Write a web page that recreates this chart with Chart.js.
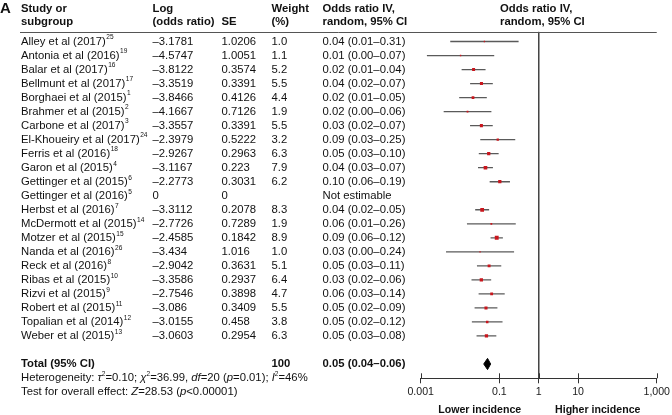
<!DOCTYPE html>
<html>
<head>
<meta charset="utf-8">
<script src="https://cdn.jsdelivr.net/npm/chart.js@4.4.1/dist/chart.umd.min.js"></script>
<style>
    html, body { margin: 0; padding: 0; background: #fff; }
    #forest { display: block; }
</style>
</head>
<body>
<canvas id="forest" width="672" height="415"></canvas>
<script>
// 연구별 데이터
const studies = [
    'Alley et al (2017)', 'Antonia et al (2016)', 'Balar et al (2017)', 'Bellmunt et al (2017)',
    'Borghaei et al (2015)', 'Brahmer et al (2015)', 'Carbone et al (2017)', 'El-Khoueiry et al (2017)',
    'Ferris et al (2016)', 'Garon et al (2015)', 'Gettinger et al (2015)', 'Gettinger et al (2016)',
    'Herbst et al (2016)', 'McDermott et al (2015)', 'Motzer et al (2015)', 'Nanda et al (2016)',
    'Reck et al (2016)', 'Ribas et al (2015)', 'Rizvi et al (2015)', 'Robert et al (2015)',
    'Topalian et al (2014)', 'Weber et al (2015)'
];
const refs = ['25', '19', '16', '17', '1', '2', '3', '24', '18', '4', '6', '5', '7', '14', '15', '26', '8', '10', '9', '11', '12', '13'];
const logOR = [-3.1781, -4.5747, -3.8122, -3.3519, -3.8466, -4.1667, -3.3557, -2.3979, -2.9267, -3.1167, -2.2773, 0,
    -3.3112, -2.7726, -2.4585, -3.434, -2.9042, -3.3586, -2.7546, -3.086, -3.0155, -3.0603];
const se = [1.0206, 1.0051, 0.3574, 0.3391, 0.4126, 0.7126, 0.3391, 0.5222, 0.2963, 0.223, 0.3031, 0,
    0.2078, 0.7289, 0.1842, 1.016, 0.3631, 0.2937, 0.3898, 0.3409, 0.458, 0.2954];
const weights = [1.0, 1.1, 5.2, 5.5, 4.4, 1.9, 5.5, 3.2, 6.3, 7.9, 6.2, null, 8.3, 1.9, 8.9, 1.0, 5.1, 6.4, 4.7, 5.5, 3.8, 6.3];
const orText = [
    '0.04 (0.01–0.31)', '0.01 (0.00–0.07)', '0.02 (0.01–0.04)', '0.04 (0.02–0.07)', '0.02 (0.01–0.05)',
    '0.02 (0.00–0.06)', '0.03 (0.02–0.07)', '0.09 (0.03–0.25)', '0.05 (0.03–0.10)', '0.04 (0.03–0.07)',
    '0.10 (0.06–0.19)', 'Not estimable', '0.04 (0.02–0.05)', '0.06 (0.01–0.26)', '0.09 (0.06–0.12)',
    '0.03 (0.00–0.24)', '0.05 (0.03–0.11)', '0.03 (0.02–0.06)', '0.06 (0.03–0.14)', '0.05 (0.02–0.09)',
    '0.05 (0.02–0.12)', '0.05 (0.03–0.08)'
];

// 합계 (low, point, high)
const totalOR = [0.04, 0.05, 0.06];
const totalLabels = ['Total (95% CI)', '100', '0.05 (0.04–0.06)'];

// x축 눈금
const tickValues = [0.001, 0.1, 1, 10, 1000];
const tickLabels = ['0.001', '0.1', '1', '10', '1,000'];

const FONT = '"Liberation Sans", Arial, sans-serif';
const TXT = 11.3;
const COL = { study: 21, log: 152.5, se: 221.5, weight: 271.5, or: 322.5, plot: 500 };
const totalRow = studies.length + 1;

function fmtNum(v) {
    return v < 0 ? '–' + Math.abs(v) : String(v);
}

// CI 선 데이터셋 (연구별)
const ciSets = [];
studies.forEach((s, i) => {
    if (!se[i]) return;
    ciSets.push({
        type: 'line',
        data: [
            { x: Math.exp(logOR[i] - 1.96 * se[i]), y: i },
            { x: Math.exp(logOR[i] + 1.96 * se[i]), y: i }
        ],
        borderColor: '#5a5a5a',
        borderWidth: 1.3,
        pointRadius: 0,
        order: 3
    });
});

const markerData = [];
const markerSize = [];
studies.forEach((s, i) => {
    if (!se[i]) return;
    markerData.push({ x: Math.exp(logOR[i]), y: i });
    markerSize.push(1.3 * Math.sqrt(weights[i]));
});

function drawRuns(ctx, runs, x, y, size) {
    runs.forEach(([t, st]) => {
        if (st === 's') {
            ctx.font = `${size * 0.58}px ${FONT}`;
            ctx.fillText(t, x, y - 4);
        } else {
            ctx.font = `${st === 'i' ? 'italic ' : ''}${size}px ${FONT}`;
            ctx.fillText(t, x, y);
        }
        x += ctx.measureText(t).width;
    });
}

const tablePlugin = {
    id: 'forestTable',
    afterDraw(chart) {
        const ctx = chart.ctx;
        const xs = chart.scales.x;
        const ys = chart.scales.y;
        const area = chart.chartArea;
        ctx.save();

        // 헤더 구분선
        ctx.strokeStyle = '#555';
        ctx.lineWidth = 1;
        ctx.beginPath();
        ctx.moveTo(20, Math.round(area.top) + 0.5);
        ctx.lineTo(area.right, Math.round(area.top) + 0.5);
        ctx.stroke();

        // 위쪽 눈금
        ctx.strokeStyle = '#333';
        ctx.beginPath();
        xs.ticks.forEach(t => {
            const px = Math.round(xs.getPixelForValue(t.value)) + 0.5;
            ctx.moveTo(px, area.bottom - 5);
            ctx.lineTo(px, area.bottom);
        });
        ctx.stroke();

        ctx.fillStyle = '#111';
        ctx.textBaseline = 'middle';
        ctx.textAlign = 'left';

        ctx.font = `bold 15px ${FONT}`;
        ctx.fillText('A', 0, 9);

        ctx.font = `bold ${TXT}px ${FONT}`;
        const h1 = 8.5, h2 = 22.3;
        ctx.fillText('Study or', COL.study, h1);
        ctx.fillText('subgroup', COL.study, h2);
        ctx.fillText('Log', COL.log, h1);
        ctx.fillText('(odds ratio)', COL.log, h2);
        ctx.fillText('SE', COL.se, h2);
        ctx.fillText('Weight', COL.weight, h1);
        ctx.fillText('(%)', COL.weight, h2);
        ctx.fillText('Odds ratio IV,', COL.or, h1);
        ctx.fillText('random, 95% CI', COL.or, h2);
        ctx.fillText('Odds ratio IV,', COL.plot, h1);
        ctx.fillText('random, 95% CI', COL.plot, h2);

        studies.forEach((s, i) => {
            const py = ys.getPixelForValue(i);
            ctx.font = `${TXT}px ${FONT}`;
            ctx.fillText(s, COL.study, py);
            const w = ctx.measureText(s).width;
            ctx.fillText(fmtNum(logOR[i]), COL.log, py);
            ctx.fillText(String(se[i]), COL.se, py);
            if (weights[i] != null) ctx.fillText(weights[i].toFixed(1), COL.weight, py);
            ctx.fillText(orText[i], COL.or, py);
            ctx.font = `${TXT * 0.58}px ${FONT}`;
            ctx.fillText(refs[i], COL.study + w + 0.5, py - 4);
        });

        const ty = ys.getPixelForValue(totalRow);
        ctx.font = `bold ${TXT}px ${FONT}`;
        ctx.fillText(totalLabels[0], COL.study, ty);
        ctx.fillText(totalLabels[1], COL.weight, ty);
        ctx.fillText(totalLabels[2], COL.or, ty);

        drawRuns(ctx, [
            ['Heterogeneity: ', 'n'], ['τ', 'i'], ['2', 's'], ['=0.10; ', 'n'], ['χ', 'i'], ['2', 's'],
            ['=36.99, ', 'n'], ['df', 'i'], ['=20 (', 'n'], ['p', 'i'], ['=0.01); ', 'n'],
            ['I', 'i'], ['2', 's'], ['=46%', 'n']
        ], COL.study, ys.getPixelForValue(totalRow + 1), TXT);
        drawRuns(ctx, [
            ['Test for overall effect: ', 'n'], ['Z', 'i'], ['=28.53 (', 'n'], ['p', 'i'], ['<0.00001)', 'n']
        ], COL.study, ys.getPixelForValue(totalRow + 2), TXT);

        // 하단 라벨
        ctx.font = `bold 10.6px ${FONT}`;
        ctx.textAlign = 'center';
        ctx.fillText('Lower incidence', xs.getPixelForValue(Math.sqrt(0.001)), 410);
        ctx.fillText('Higher incidence', xs.getPixelForValue(Math.sqrt(1000)), 410);
        ctx.restore();
    }
};

const chart = new Chart(document.getElementById('forest'), {
    data: {
        datasets: [
            {
                type: 'scatter',
                data: markerData,
                pointStyle: 'rect',
                pointRadius: c => markerSize[c.dataIndex] / Math.SQRT2,
                backgroundColor: '#c8161d',
                borderWidth: 0,
                order: 1
            },
            {
                // 합계 다이아몬드
                type: 'line',
                data: [
                    { x: totalOR[0], y: totalRow },
                    { x: totalOR[1], y: totalRow - 0.4 },
                    { x: totalOR[2], y: totalRow },
                    { x: totalOR[1], y: totalRow + 0.4 },
                    { x: totalOR[0], y: totalRow }
                ],
                borderColor: '#000',
                backgroundColor: '#000',
                borderWidth: 1,
                fill: 'shape',
                pointRadius: 0,
                order: 2
            },
            {
                // 기준선 (OR = 1)
                type: 'line',
                data: [{ x: 1, y: -0.7 }, { x: 1, y: 24.02 }],
                borderColor: '#444',
                borderWidth: 1,
                pointRadius: 0,
                order: 4
            },
            ...ciSets
        ]
    },
    plugins: [tablePlugin],
    options: {
        responsive: false,
        animation: false,
        events: [],
        layout: { padding: { left: 420.7, right: 13.7, top: 31.7, bottom: 6.7 } },
        plugins: { legend: { display: false }, tooltip: { enabled: false } },
        scales: {
            x: {
                type: 'logarithmic',
                min: 0.001,
                max: 1000,
                afterBuildTicks: s => { s.ticks = tickValues.map(v => ({ value: v })); },
                afterFit: s => { s.height = 30; },
                ticks: {
                    autoSkip: false,
                    maxRotation: 0,
                    padding: 2,
                    color: '#1a1a1a',
                    font: { family: FONT, size: 10.6 },
                    callback: (v, i) => tickLabels[i]
                },
                grid: { display: true, drawOnChartArea: false, drawTicks: true, tickLength: 5, color: '#333' },
                border: { display: true, color: '#333', width: 1 }
            },
            y: {
                type: 'linear',
                reverse: true,
                min: -0.7,
                max: 24.02,
                display: false
            }
        }
    }
});
</script>
</body>
</html>
